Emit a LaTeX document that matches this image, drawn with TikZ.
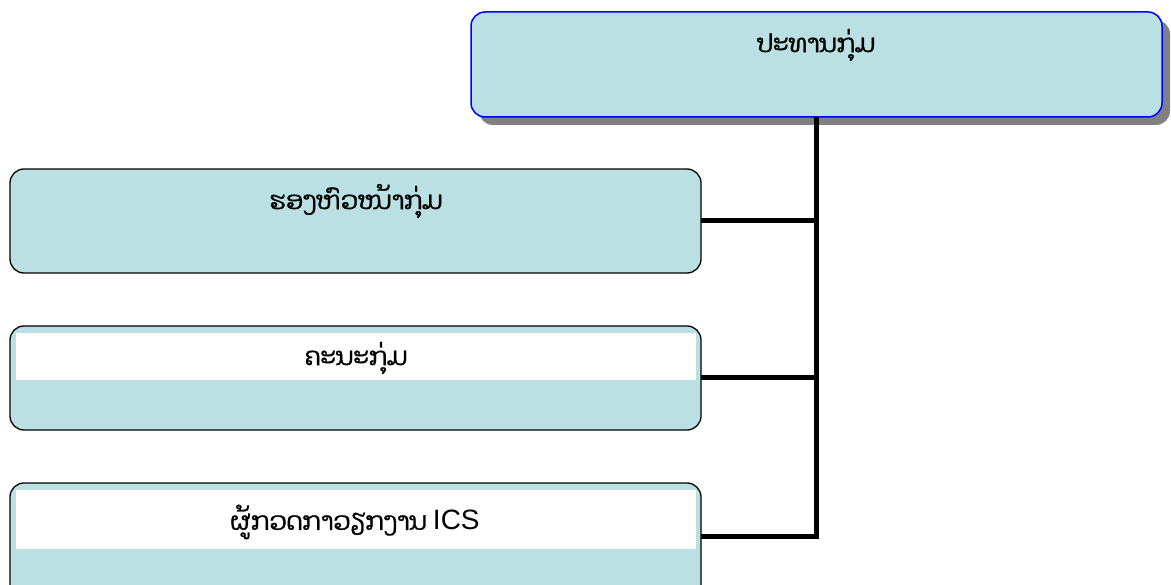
\documentclass[tikz,border=0pt]{standalone}
\usepackage{fontspec}
\newfontfamily\laofont[Script=Lao,FakeBold=1.2]{Dhyana}
\newfontfamily\latinfont{Liberation Sans}
\definecolor{boxfill}{RGB}{186,224,227}
\definecolor{shadowgrey}{RGB}{128,128,128}
\tikzset{
  px/.style={x=1pt,y=-1pt},
  orgbox/.style={rounded corners=14pt, fill=boxfill, draw=black, line width=1.3pt},
  topbox/.style={rounded corners=14pt, fill=boxfill, draw=blue, line width=1.5pt},
  band/.style={fill=white, draw=none},
  lbl/.style={font=\laofont\fontsize{25}{28}\selectfont, inner sep=0pt, anchor=center},
  conn/.style={line width=5pt, draw=black},
}
\begin{document}
\begin{tikzpicture}[px]
\useasboundingbox (0,0) rectangle (1171,585);
% top box
\fill[shadowgrey, rounded corners=14pt] (479,20) rectangle (1170,125);
\draw[topbox] (471,12) rectangle (1162,117);
\node[lbl] (pres) at (816,45) {ປະທານກຸ່ມ};
\coordinate (ptop) at (816,117);
% box 2
\draw[orgbox] (10,169) rectangle (701,273);
\node[lbl] (vice) at (356,201) {ຮອງຫົວໜ້າກຸ່ມ};
\coordinate (b2) at (701,221);
% box 3
\draw[orgbox] (10,326) rectangle (701,430);
\fill[band] (16,333) rectangle (696,380);
\node[lbl] (comm) at (356,358) {ຄະນະກຸ່ມ};
\coordinate (b3) at (701,378);
% box 4
\draw[orgbox] (10,483) rectangle (701,600);
\fill[band] (16,490) rectangle (696,549);
\node[lbl] (ics) at (355,522) {ຜູ້ກວດກາວຽກງານ {\latinfont\fontsize{28}{30}\selectfont ICS}};
\coordinate (b4) at (701,536);
% connectors
\coordinate (j2) at (816,221);
\coordinate (j3) at (816,378);
\coordinate (j4) at (816,536);
\draw[conn] (ptop) -- (j4);
\draw[conn] (b2) -- (j2);
\draw[conn] (b3) -- (j3);
\draw[conn, line join=miter] (b4) -- (j4) -- (816,534);
\end{tikzpicture}
\end{document}
